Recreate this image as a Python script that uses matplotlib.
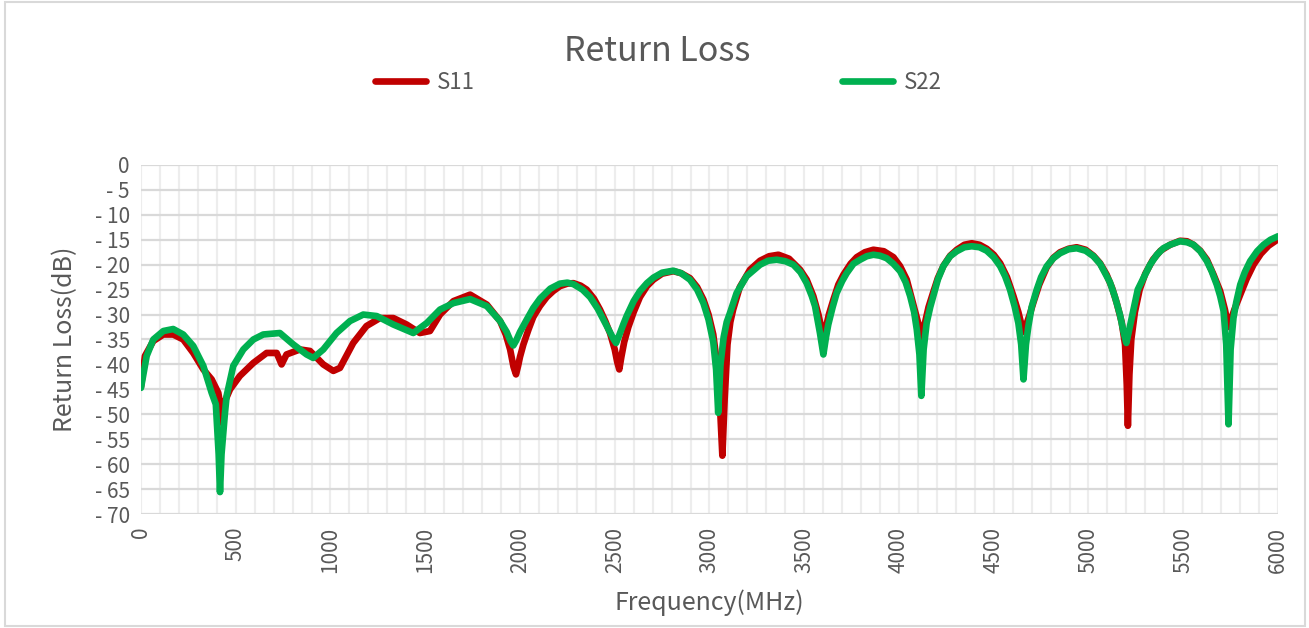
import matplotlib
matplotlib.use('Agg')
from matplotlib import pyplot as plt
from matplotlib.patches import Rectangle
from matplotlib.ticker import MultipleLocator, FuncFormatter

# S11 (red)
freq_s11 = [0, 21, 65, 118, 170, 223, 276, 329, 373, 408, 420, 427, 436, 470, 522, 593, 663, 716, 742, 768,
            839, 892, 962, 1015, 1050, 1120, 1190, 1261, 1332, 1402, 1472, 1525, 1578, 1649, 1737, 1825,
            1895, 1925, 1948, 1966, 1979, 1990, 2000, 2018, 2045, 2070, 2105, 2141, 2175, 2211, 2250, 2282,
            2320, 2352, 2390, 2422, 2450, 2475, 2500, 2513, 2524, 2535, 2550, 2572, 2600, 2633, 2670, 2704,
            2750, 2809, 2850, 2897, 2935, 2968, 2995, 3020, 3040, 3055, 3068, 3080, 3095, 3110, 3125, 3160,
            3214, 3267, 3315, 3364, 3420, 3478, 3513, 3548, 3575, 3592, 3601, 3612, 3630, 3654, 3680, 3707,
            3745, 3777, 3820, 3865, 3920, 3971, 4006, 4041, 4076, 4100, 4121, 4135, 4156, 4181, 4205, 4235,
            4270, 4305, 4345, 4384, 4425, 4463, 4500, 4534, 4570, 4604, 4630, 4645, 4660, 4672, 4690, 4710,
            4740, 4780, 4815, 4850, 4895, 4938, 4985, 5026, 5061, 5096, 5125, 5150, 5175, 5193, 5202, 5208,
            5216, 5226, 5245, 5270, 5300, 5340, 5380, 5431, 5483, 5520, 5554, 5590, 5625, 5660, 5695, 5720,
            5732, 5741, 5752, 5770, 5801, 5835, 5871, 5910, 5950, 6000]
s11 = [-44.5, -38.3, -35.3, -34, -34, -35, -37.7, -41, -43, -45.7, -48.5, -51.7, -48, -45, -42.3, -39.7,
       -37.7, -37.7, -40, -38, -37, -37.3, -40, -41.3, -40.7, -35.7, -32.3, -30.7, -30.7, -32, -33.7, -33.3,
       -30, -27.3, -26, -28,
       -31.3, -34, -37, -40.5, -42, -40.3, -38.5, -36, -33, -30.5, -28.3, -26.5, -25.3, -24.3, -23.8, -23.7,
       -24.2, -25, -26.8, -29, -31.3, -33.7, -37, -39.5, -41, -38.5, -35.5, -32.5, -29.5, -26.5, -24.3, -23,
       -21.8, -21.3, -21.7, -22.7, -24.5, -27, -30, -34, -40, -48, -58.3, -47, -36, -31.5, -29, -24.5,
       -21, -19.2, -18.3, -18, -18.8, -21, -23, -26.3, -30, -33, -34.8, -33, -30, -27, -24, -22,
       -19.8, -18.5, -17.5, -17, -17.3, -18.5, -20.3, -23, -28, -31.5, -34.5, -32, -28.5, -25.5, -22.7, -20.2,
       -18.2, -17, -16, -15.7, -16, -16.8, -18, -19.7, -22.5, -26.3, -29.5, -31.8, -33.5, -32, -30, -27.5,
       -24, -20.5, -18.6, -17.5, -16.8, -16.5, -17, -18.2, -19.7, -22, -24.7, -27.8, -31.5, -36, -44, -52.3,
       -42, -35, -29.5, -25, -21.8, -19, -17.2, -16, -15.2, -15.3, -16, -17.2, -19, -22, -25.3, -29,
       -31.3, -32.5, -31, -29, -26, -22.8, -20, -17.8, -16.2, -14.9]

# S22 (green)
freq_s22 = [0, 30, 65, 118, 170, 223, 276, 329, 373, 395, 410, 417, 425, 443, 452, 487, 540, 593, 645, 733,
            804, 874, 909, 962, 1032, 1103, 1173, 1244, 1332, 1437, 1508, 1578, 1649, 1737, 1825,
            1895, 1930, 1950, 1965, 1980, 2000, 2036, 2070, 2106, 2160, 2211, 2250, 2282, 2330, 2370, 2410,
            2440, 2470, 2495, 2507, 2520, 2545, 2563, 2600, 2633, 2670, 2704, 2750, 2809, 2850, 2897, 2935,
            2968, 2995, 3020, 3035, 3046, 3058, 3075, 3091, 3108, 3143, 3196, 3267, 3310, 3355, 3400, 3443,
            3480, 3513, 3540, 3557, 3583, 3601, 3615, 3627, 3650, 3671, 3700, 3724, 3760, 3795, 3830, 3865,
            3900, 3935, 3970, 4006, 4035, 4059, 4080, 4094, 4108, 4118, 4130, 4146, 4165, 4181, 4205, 4234,
            4270, 4305, 4345, 4384, 4425, 4463, 4500, 4534, 4560, 4586, 4610, 4630, 4645, 4657, 4670, 4683,
            4700, 4727, 4750, 4780, 4815, 4850, 4895, 4938, 4985, 5026, 5061, 5096, 5113, 5140, 5166, 5185,
            5200, 5215, 5237, 5260, 5290, 5325, 5361, 5395, 5431, 5483, 5520, 5554, 5590, 5625, 5650, 5677,
            5695, 5713, 5727, 5739, 5750, 5765, 5780, 5801, 5825, 5853, 5890, 5924, 5960, 6000]
s22 = [-44.7, -38.3, -35, -33.3, -32.9, -34, -36.3, -40.3, -45.7, -48, -58, -65.6, -58, -49.8, -46.3, -40.3,
       -37, -35, -34, -33.7, -36, -38, -38.7, -37, -33.7, -31.3, -30, -30.3, -32, -33.7, -31.7, -29, -27.7,
       -26.9, -28.3,
       -31.3, -33.5, -35.3, -36.2, -35.2, -33.5, -31, -28.7, -26.8, -24.8, -23.8, -23.6, -23.9, -25, -26.5,
       -28.8, -31, -33.2, -35, -35.7, -34.5, -32, -30.3, -27.3, -25.3, -23.7, -22.6, -21.6, -21.2, -21.7,
       -23, -25, -27.7, -31, -35.5, -41, -49.7, -40, -34.5, -31.5, -29.7, -25.7, -22.3, -20, -19.2, -19,
       -19.3, -20, -21.5, -23.7, -26.3, -28.3, -33.7, -38, -34.5, -32, -28.5, -25.7, -23.3, -21.7, -19.8,
       -19, -18.3, -18, -18.2, -18.7, -19.8, -21.3, -23.5, -26.3, -29.5, -33, -38, -46.3, -37, -31.7,
       -28.5, -26.3, -23, -20.3, -18.3, -17.3, -16.5, -16.3, -16.5, -17.2, -18.5, -20.3, -22.3, -25, -28.3,
       -31.7, -36, -43, -36, -32.3, -28.5, -25, -22.5, -20.3, -18.7, -17.7, -16.9, -16.7, -17.2, -18.3,
       -19.8, -22.3, -23.5, -26.5, -30, -33.5, -35.7, -33, -29, -25, -22.7, -20, -18, -16.7, -16, -15.3,
       -15.5, -16, -17.3, -19.3, -21.3, -24, -26.3, -29.3, -36, -52, -37, -30.7, -27.5, -24, -21.5, -19.3,
       -17.3, -16, -15, -14.3]

assert len(freq_s11) == len(s11) and len(freq_s22) == len(s22)

plt.rcParams['font.family'] = ['Noto Sans CJK SC', 'DejaVu Sans']
plt.rcParams['font.weight'] = 'light'
plt.rcParams['axes.unicode_minus'] = False
txt = '#595959'

fig = plt.figure(figsize=(13.09, 6.28), dpi=100)
ax = fig.add_axes([0.1077, 0.1815, 0.8686, 0.5558])

ax.plot(freq_s11, s11, color='#C00000', lw=4.8, solid_joinstyle='round', solid_capstyle='round', label='S11')
ax.plot(freq_s22, s22, color='#00B050', lw=4.8, solid_joinstyle='round', solid_capstyle='round', label='S22')

ax.set_xlim(0, 6000)
ax.set_ylim(-70, 0)
ax.yaxis.set_major_locator(MultipleLocator(5))
ax.xaxis.set_major_locator(MultipleLocator(500))
ax.xaxis.set_minor_locator(MultipleLocator(100))
ax.yaxis.set_major_formatter(FuncFormatter(lambda v, p: f"{v:.0f}".replace('-', '- ')))
ax.grid(True, axis='y', which='major', color='#D9D9D9', lw=1.6)
ax.grid(True, axis='x', which='both', color='#EDEDED', lw=1.6)
ax.set_axisbelow(True)
for s in ax.spines.values():
    s.set_visible(False)
ax.tick_params(axis='both', which='both', length=0, colors=txt, labelsize=15)
ax.tick_params(axis='x', labelrotation=90, pad=9)
ax.tick_params(axis='y', pad=8)

ax.set_xlabel('Frequency(MHz)', color=txt, fontsize=18, labelpad=12)
ax.set_ylabel('Return Loss(dB)', color=txt, fontsize=18, labelpad=12)

fig.text(0.502, 0.918, 'Return Loss', ha='center', va='center', color=txt, fontsize=24.5)
fig.legend(loc='center', bbox_to_anchor=(0.503, 0.869), ncol=2, frameon=False, fontsize=16,
           handlelength=2.3, handletextpad=0.5, columnspacing=16.5, labelcolor=txt)

fig.patches.append(Rectangle((0.004, 0.003), 0.993, 0.994, transform=fig.transFigure,
                             fill=False, edgecolor='#D9D9D9', lw=1.5))

fig.savefig('out.png', dpi=100, facecolor='white')
